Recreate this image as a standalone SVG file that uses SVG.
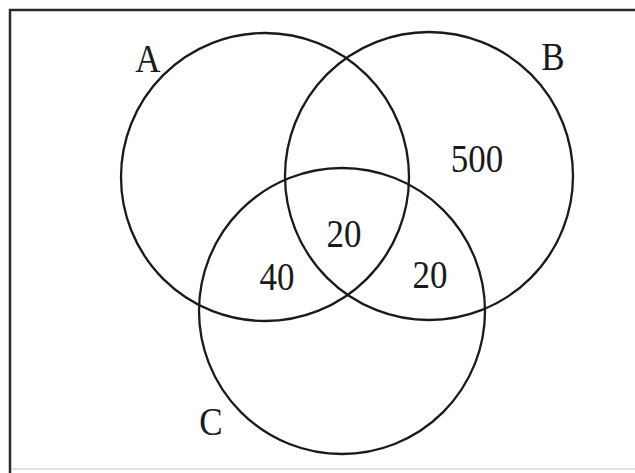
<svg xmlns="http://www.w3.org/2000/svg" width="635" height="473" viewBox="0 0 635 473">
<style>
.c{fill:none;stroke:#1a1a1a;stroke-width:2.3}
.t{font-family:"Liberation Serif",serif;font-size:35px;fill:#1a1a1a;text-anchor:middle}
.f{fill:none;stroke:#2a2a2a;stroke-width:2.5}
</style>
<rect width="635" height="473" fill="#ffffff"/>
<g id="frame">
<path class="f" d="M635 10 H10 V473"/>
<path d="M12 469 H635" stroke="#d8d8d8" stroke-width="1.5" fill="none"/>
</g>
<g id="setA"><circle class="c" cx="265" cy="177" r="144"/><text class="t" transform="translate(148 72) scale(1 1.12)">A</text></g>
<g id="setB"><circle class="c" cx="429" cy="176" r="144"/><text class="t" transform="translate(553 70) scale(1 1.12)">B</text></g>
<g id="setC"><circle class="c" cx="342" cy="311" r="143"/><text class="t" transform="translate(211 435) scale(1 1.12)">C</text></g>
<g id="labels">
<text class="t" transform="translate(477 172) scale(1 1.12)">500</text>
<text class="t" transform="translate(344 247) scale(1 1.12)">20</text>
<text class="t" transform="translate(277 290) scale(1 1.12)">40</text>
<text class="t" transform="translate(430 288) scale(1 1.12)">20</text>
</g>
<g id="connectors"/>
</svg>
